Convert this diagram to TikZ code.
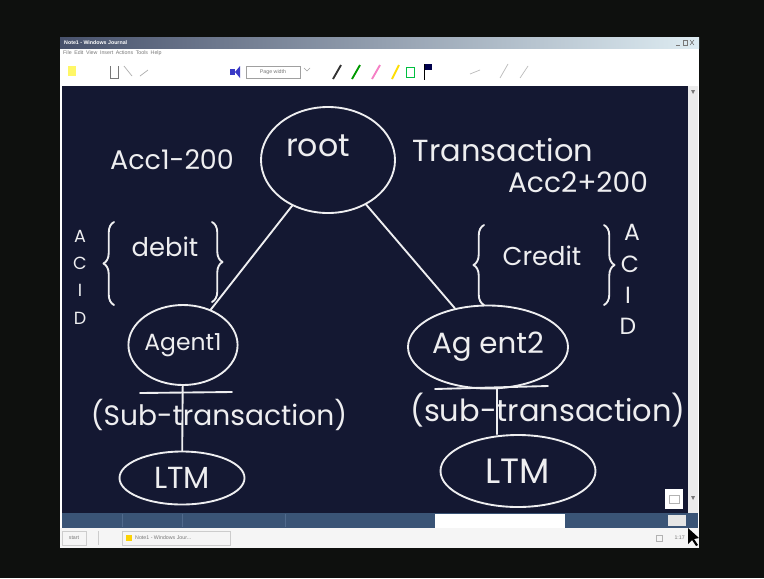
\documentclass[tikz,border=0pt]{standalone}
\usepackage{fontspec}
\setmainfont{Poppins}
\newfontfamily\uifont{Liberation Sans}
\usetikzlibrary{shapes.geometric,decorations.pathreplacing}

\definecolor{outer}{RGB}{14,16,14}
\definecolor{board}{RGB}{20,24,50}
\definecolor{chalk}{RGB}{238,238,240}
\definecolor{strip}{RGB}{58,84,118}
\definecolor{stripdiv}{RGB}{80,106,140}
\definecolor{titledark}{RGB}{72,82,108}
\definecolor{titlelight}{RGB}{222,236,242}
\definecolor{uigray}{RGB}{120,120,120}

\newcommand{\fs}[1]{\fontsize{#1}{#1}\selectfont}

\tikzset{
  wire/.style={draw=chalk, line width=1.6pt, line cap=round, line join=round},
  bubble/.style={ellipse, draw=chalk, line width=1.6pt, inner sep=0pt, text=chalk},
  hand/.style={text=chalk, inner sep=0pt},
  curly/.style={wire, decorate, decoration={brace, amplitude=9pt, aspect=0.5}},
  uitext/.style={inner sep=0pt, font=\uifont\fs{4.5}, text=uigray},
}

\begin{document}
\begin{tikzpicture}[x=0.03cm, y=-0.03cm]
  % page frame
  \fill[outer] (0,0) rectangle (764,578);
  \useasboundingbox (0,0) rectangle (764,578);

  % application window
  \fill[white] (60,37) rectangle (699,548);
  \shade[left color=titledark, right color=titlelight] (60,37) rectangle (699,48);
  \node[uitext, anchor=west, text=white, font=\uifont\bfseries\fs{4.5}] (title) at (64,42.5) {Note1 - Windows Journal};
  % window buttons
  \draw[uigray, line width=0.5pt] (676,45) -- (680,45);
  \draw[uigray, line width=0.5pt] (683,40) rectangle (687,45);
  \draw[uigray, line width=0.5pt] (690,40) -- (694,45) (690,45) -- (694,40);
  \node[uitext, anchor=west] (menu) at (63,53) {File\enspace Edit\enspace View\enspace Insert\enspace Actions\enspace Tools\enspace Help};

  % toolbar icons
  \fill[yellow!60!white] (68,66) rectangle (76,76);
  \draw[uigray, line width=0.8pt] (110,66) -- (110,78) -- (118,78) -- (118,66);
  \draw[uigray!60, line width=0.6pt] (124,66) -- (132,76);
  \draw[uigray!60, line width=0.6pt] (140,76) -- (148,70);
  \fill[blue!55!gray] (230,69) rectangle (235,75);
  \fill[blue!55!gray] (235,72) -- (240,66) -- (240,78) -- cycle;
  \draw[uigray!70, line width=0.5pt] (246,66) rectangle (300,78);
  \node[uitext] (zoombox) at (273,72) {Page width};
  \draw[uigray!70, line width=0.5pt] (304,68) -- (307,71) -- (310,68);
  \draw[black!80, line width=1.6pt] (333,79) -- (341,65);
  \draw[green!60!black, line width=1.6pt] (352,79) -- (360,65);
  \draw[magenta!50, line width=1.6pt] (372,79) -- (380,65);
  \draw[yellow!80!orange, line width=1.6pt] (392,79) -- (399,65);
  \draw[green!50!teal, line width=0.8pt] (406,67) rectangle (414,77);
  \fill[blue!30!black] (424,64) rectangle (432,70);
  \draw[black, line width=0.7pt] (424,64) -- (424,80);
  \draw[uigray!50, line width=0.6pt] (470,74) -- (480,70);
  \draw[uigray!50, line width=0.6pt] (500,78) -- (508,64);
  \draw[uigray!50, line width=0.6pt] (520,78) -- (528,66);

  % writing surface and scroll bar
  \fill[board] (62,86) rectangle (688,513);
  \fill[black!8] (688,86) rectangle (698,513);
  \fill[uigray] (691,90) -- (695,90) -- (693,94) -- cycle;
  \fill[uigray] (691,496) -- (695,496) -- (693,500) -- cycle;

  % page tabs strip
  \fill[strip] (62,513) rectangle (698,528);
  \draw[stripdiv, line width=0.6pt] (122,514) -- (122,527);
  \draw[stripdiv, line width=0.6pt] (182,514) -- (182,527);
  \draw[stripdiv, line width=0.6pt] (285,514) -- (285,527);
  \fill[white] (435,514) rectangle (565,528);
  \fill[black!10] (668,515) rectangle (686,526);

  % task bar
  \fill[black!4] (60,528) rectangle (699,548);
  \draw[black!20, line width=0.5pt] (62,531) rectangle (86,545);
  \node[uitext] (start) at (74,538) {start};
  \draw[black!20, line width=0.5pt] (98,531) -- (98,545);
  \draw[black!20, line width=0.5pt] (122,531) rectangle (230,545);
  \fill[yellow!70!orange] (126,535) rectangle (132,541);
  \node[uitext, anchor=west] (taskitem) at (135,538) {Note1 - Windows Jour...};
  \draw[black!30, line width=0.5pt] (656,535) rectangle (662,541);
  \node[uitext, anchor=east] (tray) at (685,538) {1:17};

  % small view box in the corner
  \fill[white] (665,489) rectangle (683,509);
  \draw[black!30, line width=0.5pt] (669,495) rectangle (679,503);

  % mouse pointer
  \fill[black] (688,528) -- (688,544) -- (692,540) -- (696,546) -- (698,545) -- (694,539) -- (699,538) -- cycle;

  % ---------------- the tree ----------------
  \node[bubble, minimum width=4.02cm, minimum height=3.18cm] (root) at (328,160) {};
  \node[hand, font=\fs{27}] (rootlbl) at (318,146) {root};

  \node[bubble, minimum width=3.15cm, minimum height=2.4cm, font=\fs{20}] (a1) at (183,345) {Agent1};
  \node[bubble, minimum width=4.8cm, minimum height=2.49cm, font=\fs{25}] (a2) at (488,347) {Ag ent2};

  \node[bubble, minimum width=3.75cm, minimum height=1.59cm, font=\fs{26}] (ltm1) at (182,478) {LTM};
  \node[bubble, minimum width=4.65cm, minimum height=2.16cm, font=\fs{30}] (ltm2) at (518,471) {LTM};

  % tree edges
  \draw[wire] (root) -- (a1);
  \draw[wire] (root) -- (a2);
  \draw[wire] (a1) -- (ltm1);
  \coordinate (v2) at (497,388);
  \draw[wire] (v2) -- (v2 |- ltm2.north);

  % bars above the sub-transaction labels
  \coordinate (bar1a) at (140,393);
  \coordinate (bar1b) at (232,392);
  \draw[wire] (bar1a) -- (bar1b);
  \coordinate (bar2a) at (435,389);
  \coordinate (bar2b) at (548,386);
  \draw[wire] (bar2a) -- (bar2b);

  \node[hand, font=\fs{24}] (sub1) at (219,415) {(Sub-transaction)};
  \node[hand, font=\fs{26}] (sub2) at (548,410) {(sub-transaction)};

  % annotations around the root
  \node[hand, font=\fs{23}] (acc1) at (172,160) {Acc1-200};
  \node[hand, font=\fs{26}] (trans) at (503,150) {Transaction};
  \node[hand, font=\fs{24}] (acc2) at (578,182) {Acc2+200};

  % left side: debit with ACID
  \draw[curly] (114,305) -- (114,222);
  \draw[curly] (212,222) -- (212,302);
  \node[hand, font=\fs{22}] (debit) at (165,247) {debit};
  \node[hand, font=\fs{15}] (la) at (80,236) {A};
  \node[hand, font=\fs{15}] (lc) at (80,263) {C};
  \node[hand, font=\fs{15}] (li) at (80,290) {I};
  \node[hand, font=\fs{15}] (ld) at (80,318) {D};

  % right side: credit with ACID
  \draw[curly] (484,305) -- (484,225);
  \draw[curly] (604,225) -- (604,305);
  \node[hand, font=\fs{22}] (credit) at (542,256) {Credit};
  \node[hand, font=\fs{20}] (ra) at (632,232) {A};
  \node[hand, font=\fs{20}] (rc) at (630,264) {C};
  \node[hand, font=\fs{20}] (ri) at (628,295) {I};
  \node[hand, font=\fs{20}] (rd) at (628,326) {D};
\end{tikzpicture}
\end{document}
